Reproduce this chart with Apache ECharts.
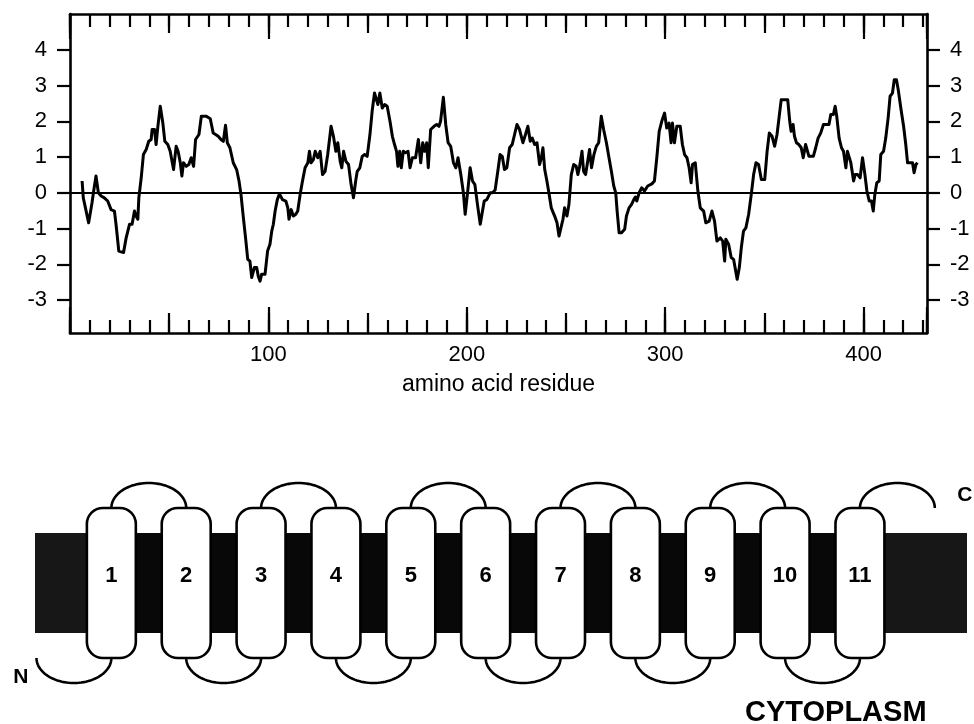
<!DOCTYPE html>
<html><head><meta charset="utf-8">
<script src="https://cdn.jsdelivr.net/npm/echarts@6/dist/echarts.min.js"></script>
<style>html,body{margin:0;padding:0;background:#fff}#c{width:974px;height:724px}</style>
</head><body><div id="c"></div>
<script>
// ---------------- data ----------------
const residue = [
6.1,6.7,9.4,11.1,11.8,13.1,14.3,15.7,17.3,19,20.7,22.4,23.2,24.6,27,28.3,30,31.3,32.5,33.3,34.2,34.7,35.9,37,38.4,39.7,40.9,41.4,42.6,43.4,44.3,45.5,46.8,47.8,49.3,50.5,52.2,53.5,54.5,55.6,56.4,57.2,58.6,59.9,61.1,62.3,63.3,65,66.2,68.7,70.7,
72.2,73.4,74.7,76.1,77.3,78.4,79.3,80.6,82.3,84,85.2,86.2,87.4,88.5,89.6,90.7,91.6,92.9,94.1,94.9,95.8,96.6,98.3,99.6,100.8,101.7,102.5,103.4,104.5,105.6,107.1,108.8,109.8,110.4,111.5,112.6,113.8,114.8,116,117.2,118.5,119.9,120.7,121.5,122.7,123.6,124.9,126.1,127.3,128.6,129.9,131.6,132.8,134,135,136.2,137,137.9,139.1,140.4,141.7,142.9,
144,144.8,146.1,147.3,148.5,149.8,151.2,152.3,153.5,154.5,155.2,156.2,157.4,158.6,159.9,161.3,162.5,163.6,164.6,165.3,166.2,167,168,169.2,170.4,171.4,172.6,174.2,175.6,176.8,177.8,178.8,179.8,180.6,181.8,183.5,184.8,186,186.8,188.2,189.4,190.6,191.9,193.3,194.5,195.6,197,198.3,199.2,200.4,201.7,202.9,204.1,205.4,206.8,207.6,208.8,210.1,211.8,213,214.3,215.6,
216.8,217.9,219,220.2,221.6,222.9,224.1,225.3,226.6,228.3,229.6,230.8,232,233,234.2,235.4,236.7,237.6,238.4,239.3,240.4,241.4,242.6,244.3,245.5,246.5,247.3,248.5,249.3,250.5,251.5,252.7,253.9,255.2,256,256.9,258.1,258.9,259.9,261.1,261.9,262.9,264.1,265.3,266.5,267.8,269,270.4,271.7,272.9,274.1,275.1,275.8,276.8,278,279.6,280.5,281.8,283,284.2,285,285.7,286.9,
288.2,289.6,291.2,293.3,294.6,295.8,297,298.3,299.7,300.8,302,303,303.7,304.7,305.9,307.6,308.7,309.8,311,312.1,313.1,313.8,315.2,316.5,317.7,319.4,320.5,322.2,323.6,324.9,326.1,327.8,329,330,330.6,332,333.3,334.5,335.7,336.3,337.4,338.4,339.5,340.7,342.1,343.4,344.6,345.8,347.1,348.5,350.2,351.4,352.5,353.9,355.2,356.4,357.2,
358.5,360.2,361.8,362.8,363.5,364.5,365.2,366.2,367.4,368.6,369.6,370.8,371.6,372.5,373.4,374.7,375.9,377.1,378.4,379.8,381.5,382.6,383.5,384.8,385.7,386.5,387.7,388.9,389.9,391.1,391.9,392.8,393.6,395,395.8,397,398.3,399.5,400.7,401.7,402.9,404,404.9,405.7,406.7,407.9,408.7,410.1,411.2,412.4,413.4,414.6,415.5,416.6,417.5,418.8,420.2,421.3,422.2,423.5,424.7,425.5,426.4,427.2
];
const hydropathy = [
0.33,-0.14,-0.84,-0.28,0,0.47,0,-0.09,-0.14,-0.23,-0.47,-0.51,-0.88,-1.63,-1.67,-1.26,-0.88,-0.88,-0.51,-0.65,-0.74,-0.14,0.42,1.07,1.21,1.44,1.49,1.77,1.77,1.35,1.86,2.42,1.95,1.44,1.35,1.16,0.65,1.3,1.16,0.84,0.47,0.84,0.74,0.79,0.98,0.74,1.49,1.63,2.14,2.14,2.07,
1.67,1.63,1.58,1.49,1.44,1.89,1.4,1.26,0.84,0.65,0.33,-0.05,-0.7,-1.26,-1.86,-1.91,-2.37,-2.09,-2.09,-2.33,-2.47,-2.28,-2.28,-1.63,-1.44,-1.07,-0.88,-0.51,-0.19,-0.03,-0.19,-0.23,-0.42,-0.74,-0.47,-0.65,-0.6,-0.51,-0.05,0.33,0.7,0.84,1.16,0.84,0.93,1.16,0.98,1.16,0.51,0.6,1.07,1.86,1.58,1.16,1.4,0.88,0.7,1.16,0.88,0.79,0.23,-0.14,
0.33,0.6,0.7,1.02,1.07,1.02,1.63,2.28,2.79,2.79,2.47,2.79,2.37,2.47,2.42,2.0,1.58,1.35,1.16,0.74,1.16,0.7,1.16,1.12,1.16,0.7,0.98,0.98,1.49,0.84,1.4,1.16,1.4,0.7,1.77,1.86,1.91,1.86,2.0,2.67,1.91,1.4,1.3,0.84,0.7,0.98,0.51,0,-0.6,0,0.7,0.33,0.23,-0.33,-0.88,-0.93,-0.23,-0.19,0,0,0.08,0.58,
1.07,1.02,0.65,0.7,1.26,1.35,1.63,1.91,1.77,1.4,1.63,1.86,1.44,1.53,1.35,1.4,0.79,0.98,1.26,0.65,0.33,0,-0.42,-0.65,-0.84,-1.21,-1.26,-0.74,-0.42,-0.65,-0.33,0.51,0.79,0.74,0.51,0.74,1.16,0.6,0.51,0.93,1.21,0.7,1.07,1.3,1.4,2.14,1.77,1.4,0.98,0.6,0.19,0,-0.51,-1.12,-1.12,-1.02,-0.65,-0.42,-0.33,-0.19,-0.12,-0.23,0,
0.14,0.05,0.19,0.25,0.33,0.98,1.72,2.0,2.23,1.81,1.95,1.4,1.95,1.4,1.86,1.86,1.35,1.07,0.98,0.7,0.28,0.79,0.84,0.05,-0.42,-0.51,-0.84,-0.79,-0.51,-0.79,-1.35,-1.26,-1.35,-1.91,-1.3,-1.44,-1.81,-1.86,-2.23,-2.42,-2.09,-1.53,-1.07,-0.98,-0.6,-0.05,0.51,0.84,0.79,0.37,0.37,1.16,1.67,1.58,1.3,1.63,2.0,
2.6,2.6,2.6,2.0,1.72,1.91,1.58,1.4,1.35,1.26,0.98,1.35,1.4,1.02,1.07,1.02,1.26,1.53,1.67,1.91,1.91,1.91,2.19,2.19,2.42,2.14,1.53,1.26,1.16,0.7,1.16,1.21,0.84,0.33,0.51,0.51,0.42,0.98,0.51,0.05,-0.23,-0.23,-0.51,-0.05,0.28,0.33,1.07,1.16,1.53,2.09,2.7,2.79,3.16,3.16,2.88,2.37,1.86,1.35,0.84,0.84,0.84,0.56,0.79,0.84
];
const xRange = [0, 432];
const yRange = [-3.92, 5];
const yTickValues = [-3, -2, -1, 0, 1, 2, 3, 4];
const xLabelValues = [100, 200, 300, 400];

// topology diagram (x in helix index units, y in membrane half-thickness units)
const helixLabels = ['1','2','3','4','5','6','7','8','9','10','11'];
const helixPositions = [1,2,3,4,5,6,7,8,9,10,11];
const topLoops = [[1,2],[3,4],[5,6],[7,8],[9,10],[11,12]];
const bottomLoops = [[0,1],[2,3],[4,5],[6,7],[8,9],[10,11]];
const membraneSpan = [-0.02, 12.43];
const terminusLabels = ['N', 'C'];
const terminusX = [-0.21, 12.4];
const terminusY = [-1.89, 1.75];

// ---------------- chart ----------------
const FONT = '"Liberation Sans", Arial, Helvetica, sans-serif';
const HW = 0.327, HH = 1.5, LOOP_H = 0.5;
const lineData = residue.map((r, i) => [r, hydropathy[i]]);

function xTickAxis(pos, interval, len, opts) {
  opts = opts || {};
  return Object.assign({
    type: 'value', gridIndex: 0, position: pos,
    min: xRange[0], max: xRange[1], interval: interval,
    axisLine: { show: !!opts.line, onZero: false, lineStyle: { color: '#000', width: 2.6 } },
    axisTick: { show: true, inside: true, length: len, lineStyle: { color: '#000', width: 2.2 } },
    axisLabel: { show: false },
    splitLine: { show: false }
  }, opts.extra || {});
}

const chart = echarts.init(document.getElementById('c'), null, { renderer: 'canvas' });
const yAxisCommon = (pos) => ({
  type: 'value', gridIndex: 0, position: pos, min: yRange[0], max: yRange[1],
  axisLine: { show: true, onZero: false, lineStyle: { color: '#000', width: 2.6 } },
  axisTick: { show: true, inside: false, length: 13, customValues: yTickValues, lineStyle: { color: '#000', width: 2.2 } },
  axisLabel: { show: true, customValues: yTickValues, margin: 23, color: '#000', fontSize: 22, fontFamily: FONT },
  splitLine: { show: false }
});

chart.setOption({
  backgroundColor: '#fff',
  animation: false,
  grid: [
    { left: 70, top: 14, width: 857, height: 319 },
    { left: 35, top: 458, width: 932, height: 250 }
  ],
  xAxis: [
    xTickAxis('bottom', 10, 13, { line: true }),
    xTickAxis('bottom', 50, 20),
    xTickAxis('bottom', 100, 26, { extra: {
      axisLabel: { show: true, margin: 11, color: '#000', fontSize: 22, fontFamily: FONT,
        formatter: v => (xLabelValues.indexOf(v) >= 0 ? String(v) : '') },
      name: 'amino acid residue', nameLocation: 'middle', nameGap: 40,
      nameTextStyle: { color: '#000', fontSize: 23, fontFamily: FONT }
    } }),
    xTickAxis('top', 10, 13, { line: true }),
    xTickAxis('top', 50, 19),
    xTickAxis('top', 100, 25),
    { type: 'value', gridIndex: 1, min: membraneSpan[0], max: membraneSpan[1], show: false }
  ],
  yAxis: [
    yAxisCommon('left'),
    yAxisCommon('right'),
    { type: 'value', gridIndex: 1, min: -2.5, max: 2.5, show: false }
  ],
  graphic: [
    { type: 'text', left: 745, top: 698, style: { text: 'CYTOPLASM', font: 'bold 29px ' + FONT, fill: '#000' } }
  ],
  series: [
    {
      type: 'line', xAxisIndex: 0, yAxisIndex: 0, data: lineData,
      symbol: 'none', showSymbol: false, z: 3,
      lineStyle: { color: '#000', width: 3, join: 'round' },
      markLine: {
        silent: true, symbol: ['none', 'none'], label: { show: false },
        lineStyle: { color: '#000', width: 2.2, type: 'solid' },
        data: [{ yAxis: 0 }]
      }
    },
    {
      // membrane band
      type: 'custom', xAxisIndex: 6, yAxisIndex: 2, z: 1,
      data: [[membraneSpan[0], membraneSpan[1]]],
      renderItem(params, api) {
        const a = api.coord([api.value(0), 1]);
        const b = api.coord([api.value(1), -1]);
        const ia = api.coord([helixPositions[0], 1]);
        const ib = api.coord([helixPositions[helixPositions.length - 1], -1]);
        return { type: 'group', children: [
          { type: 'rect', shape: { x: a[0], y: a[1], width: b[0] - a[0], height: b[1] - a[1] }, style: { fill: '#171717' } },
          { type: 'rect', shape: { x: ia[0], y: ia[1], width: ib[0] - ia[0], height: ib[1] - ia[1] }, style: { fill: '#080808' } }
        ] };
      }
    },
    {
      // loops
      type: 'custom', xAxisIndex: 6, yAxisIndex: 2, z: 2,
      data: topLoops.map(l => [l[0], l[1], 1]).concat(bottomLoops.map(l => [l[0], l[1], -1])),
      renderItem(params, api) {
        const a = api.value(0), b = api.value(1), side = api.value(2);
        const cx = (a + b) / 2, rx = (b - a) / 2, base = side * HH;
        const pts = [];
        for (let k = 0; k <= 48; k++) {
          const t = Math.PI * k / 48;
          pts.push(api.coord([cx - rx * Math.cos(t), base + side * LOOP_H * Math.sin(t)]));
        }
        return { type: 'polyline', shape: { points: pts }, style: { fill: null, stroke: '#000', lineWidth: 2.6 } };
      }
    },
    {
      // helices
      type: 'custom', xAxisIndex: 6, yAxisIndex: 2, z: 3,
      data: helixPositions.map(p => [p]),
      renderItem(params, api) {
        const i = api.value(0);
        const tl = api.coord([i - HW, HH]);
        const br = api.coord([i + HW, -HH]);
        const c = api.coord([i, 0.14]);
        return { type: 'group', children: [
          { type: 'rect', shape: { x: tl[0], y: tl[1], width: br[0] - tl[0], height: br[1] - tl[1], r: 16 },
            style: { fill: '#fff', stroke: '#000', lineWidth: 2.6 } },
          { type: 'text', style: { text: helixLabels[params.dataIndex], x: c[0], y: c[1], align: 'center', verticalAlign: 'middle',
            font: 'bold 22px ' + FONT, fill: '#000' } }
        ] };
      }
    },
    {
      // termini labels
      type: 'custom', xAxisIndex: 6, yAxisIndex: 2, z: 3,
      data: terminusX.map((x, k) => [x, terminusY[k]]),
      renderItem(params, api) {
        const p = api.coord([api.value(0), api.value(1)]);
        return { type: 'text', style: { text: terminusLabels[params.dataIndex], x: p[0], y: p[1], align: 'center', verticalAlign: 'middle',
          font: 'bold 21px ' + FONT, fill: '#000' } };
      }
    }
  ]
});
</script>
</body></html>
